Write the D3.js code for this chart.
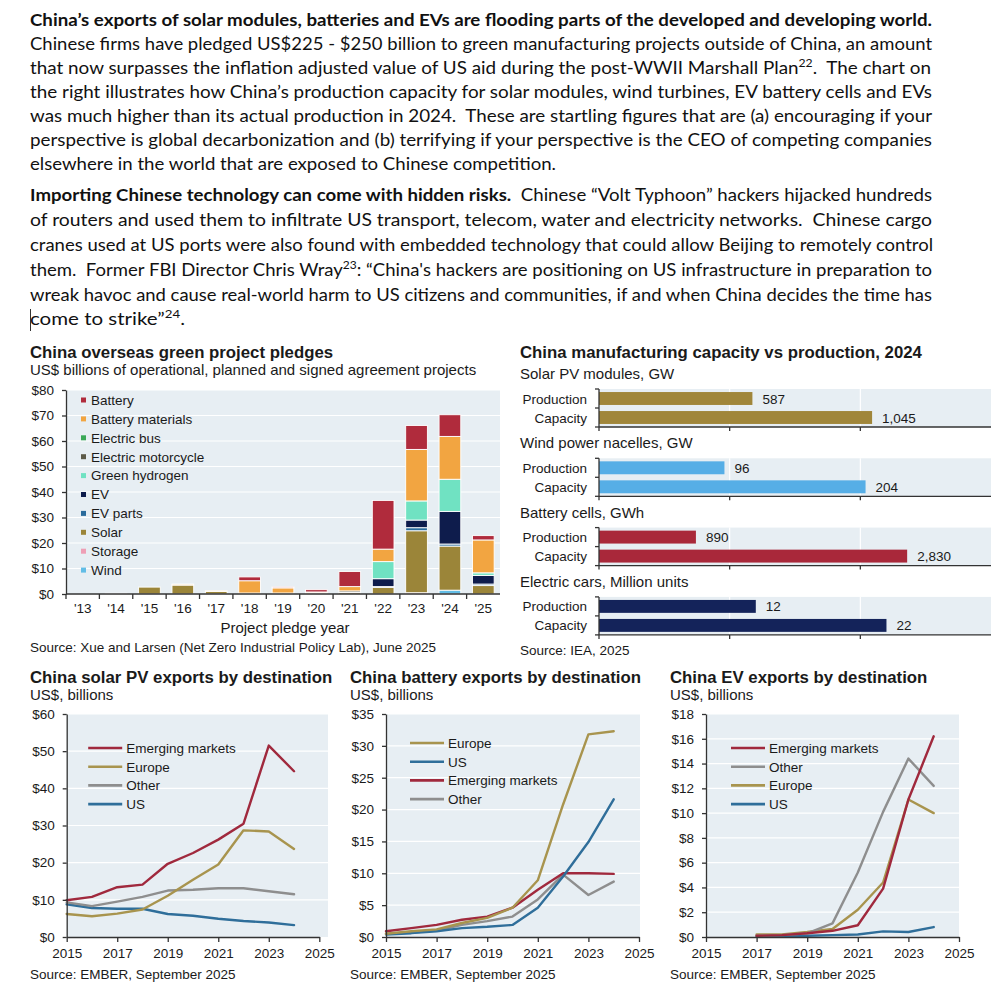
<!DOCTYPE html>
<html lang="en">
<head>
<meta charset="UTF-8">
<title>China green exports</title>
<script src="https://d3js.org/d3.v7.min.js"></script>
<style>
  body { margin: 0; background: #fff; }
  svg { display: block; }
  .para { font-family: Lato, "Open Sans", sans-serif; font-size: 17px; fill: #111; white-space: pre; }
  .chart text { font-family: "Liberation Sans", Arial, sans-serif; fill: #1a1a1a; }
  .ctitle { font-weight: bold; font-size: 16.8px; }
  .csub { font-size: 15px; }
  .small { font-size: 13.5px; }
</style>
</head>
<body>
<svg id="page" width="991" height="1000"></svg>
<script>
// ---------- data: overseas pledges (US$ bn) ----------
const pledgeYears = ["'13", "'14", "'15", "'16", "'17", "'18", "'19", "'20", "'21", "'22", "'23", "'24", "'25"];
const pledgeSeries = ["Battery", "Battery materials", "Electric bus", "Electric motorcycle", "Green hydrogen",
  "EV", "EV parts", "Solar", "Storage", "Wind"];
const pledgeBattery          = [0, 0, 0, 0, 0, 1.5, 0.4, 0.9, 5.9, 19.1, 9.4, 8.5, 1.7];
const pledgeBatteryMaterials = [0, 0, 0, 0.4, 0.3, 4.8, 2.0, 0.4, 1.7, 4.9, 20.2, 16.8, 12.9];
const pledgeElectricBus      = [0, 0, 0, 0, 0, 0, 0, 0, 0, 0, 0, 0, 0];
const pledgeElectricMoto     = [0, 0, 0, 0, 0, 0, 0, 0, 0.6, 0, 0, 0, 0];
const pledgeGreenHydrogen    = [0, 0, 0, 0, 0, 0, 0, 0, 0, 6.7, 7.5, 12.6, 1.0];
const pledgeEV               = [0, 0, 0, 0, 0, 0, 0, 0, 0, 3.1, 3.0, 12.8, 3.4];
const pledgeEVParts          = [0, 0, 0, 0, 0, 0, 0, 0, 0, 0.3, 1.2, 0.8, 0.6];
const pledgeSolar            = [0, 0.3, 2.7, 3.5, 1.0, 0.4, 0.4, 0.4, 0.6, 2.6, 24.3, 17.3, 3.3];
const pledgeStorage          = [0, 0, 0, 0, 0, 0, 0, 0, 0, 0, 0.5, 0, 0];
const pledgeWind             = [0, 0, 0, 0, 0, 0, 0, 0, 0, 0, 0, 1.5, 0];
const pledgeYTicks = [0, 10, 20, 30, 40, 50, 60, 70, 80];

// ---------- data: capacity vs production 2024 ----------
const capGroups = ["Solar PV modules, GW", "Wind power nacelles, GW", "Battery cells, GWh", "Electric cars, Million units"];
const capRows = ["Production", "Capacity"];
const capProduction = [587, 96, 890, 12];
const capCapacity = [1045, 204, 2830, 22];
const capAxisMax = [1500, 300, 3600, 30];

// ---------- data: exports by destination (US$ bn) ----------
const exportYears = [2015, 2016, 2017, 2018, 2019, 2020, 2021, 2022, 2023, 2024];
const xTickYears = [2015, 2017, 2019, 2021, 2023, 2025];

const solarEmerging = [9.9, 10.8, 13.4, 14.1, 19.7, 22.6, 26.2, 30.5, 51.5, 44.6];
const solarEurope   = [6.2, 5.6, 6.3, 7.4, 11.1, 15.4, 19.5, 28.7, 28.4, 23.7];
const solarOther    = [9.3, 8.3, 9.5, 10.8, 12.5, 12.7, 13.1, 13.1, 12.3, 11.5];
const solarUS       = [8.8, 7.8, 7.6, 7.6, 6.2, 5.7, 4.9, 4.3, 3.9, 3.2];

const batteryEurope   = [0.5, 0.9, 1.2, 2.2, 3.0, 4.6, 8.9, 20.8, 31.8, 32.3];
const batteryUS       = [0.4, 0.6, 0.9, 1.4, 1.6, 1.9, 4.6, 9.5, 14.9, 21.6];
const batteryEmerging = [0.9, 1.4, 1.9, 2.7, 3.2, 4.6, 7.4, 10.0, 10.0, 9.9];
const batteryOther    = [0.5, 0.7, 1.0, 1.9, 2.5, 3.2, 5.9, 9.8, 6.6, 8.7];

const evYears = [2017, 2018, 2019, 2020, 2021, 2022, 2023, 2024];
const evEmerging = [0.1, 0.15, 0.3, 0.5, 0.95, 3.9, 11.1, 16.2];
const evOther    = [0.1, 0.15, 0.3, 1.1, 5.2, 10.1, 14.4, 12.2];
const evEurope   = [0.2, 0.2, 0.4, 0.65, 2.2, 4.4, 11.1, 10.0];
const evUS       = [0.05, 0.05, 0.1, 0.15, 0.2, 0.45, 0.4, 0.8];

// ---------- styles ----------
const PLOT_BG = "#e7eef3";
const AXIS = "#333";
const pledgeColors = ["#b02b3c", "#f2a541", "#3aa857", "#5c5a48", "#70e2c2",
  "#0e1c4c", "#2b6c9c", "#9b8539", "#ee9fb5", "#62bde6"];
const capColors = ["#a0863a", "#56aee6", "#a9283a", "#14235a"];
const C_RED = "#a0293d", C_GOLD = "#a8944e", C_GREY = "#8e8e8e", C_BLUE = "#2f6e9a";

const page = d3.select("#page");

// ---------- commentary text ----------
const textLines = [
  [26, 902, [["b", "China’s exports of solar modules, batteries and EVs are flooding parts of the developed and developing world."]]],
  [50, 902, [["n", "Chinese firms have pledged US$225 - $250 billion to green manufacturing projects outside of China, an amount"]]],
  [74, 901, [["n", "that now surpasses the inflation adjusted value of US aid during the post-WWII Marshall Plan"], ["s", "22"], ["n", ".  The chart on"]]],
  [98, 902, [["n", "the right illustrates how China’s production capacity for solar modules, wind turbines, EV battery cells and EVs"]]],
  [122, 902, [["n", "was much higher than its actual production in 2024.  These are startling figures that are (a) encouraging if your"]]],
  [146, 902, [["n", "perspective is global decarbonization and (b) terrifying if your perspective is the CEO of competing companies"]]],
  [170, 526, [["n", "elsewhere in the world that are exposed to Chinese competition."]]],
  [201, 902, [["b", "Importing Chinese technology can come with hidden risks."], ["n", "  Chinese “Volt Typhoon” hackers hijacked hundreds"]]],
  [226, 902, [["n", "of routers and used them to infiltrate US transport, telecom, water and electricity networks.  Chinese cargo"]]],
  [251, 903, [["n", "cranes used at US ports were also found with embedded technology that could allow Beijing to remotely control"]]],
  [276, 902, [["n", "them.  Former FBI Director Chris Wray"], ["s", "23"], ["n", ": “China's hackers are positioning on US infrastructure in preparation to"]]],
  [301, 902, [["n", "wreak havoc and cause real-world harm to US citizens and communities, if and when China decides the time has"]]],
  [325, 155, [["n", "come to strike”"], ["s", "24"], ["n", "."]]]
];

textLines.forEach(([y, w, parts]) => {
  const t = page.append("text").attr("class", "para")
    .attr("x", 30).attr("y", y)
    .attr("textLength", w).attr("lengthAdjust", "spacingAndGlyphs");
  let shifted = false;
  parts.forEach(([kind, str]) => {
    const s = t.append("tspan").text(str);
    if (kind === "b") s.attr("font-weight", "bold");
    if (kind === "s") { s.attr("dy", -7).attr("font-size", 11); shifted = true; }
    else if (shifted) { s.attr("dy", 7); shifted = false; }
  });
});
// stray text cursor in the source screenshot
page.append("line").attr("x1", 30.5).attr("x2", 30.5).attr("y1", 309).attr("y2", 331)
  .attr("stroke", "#333").attr("stroke-width", 1);

// ---------- chart 1: stacked pledges ----------
{
  const g = page.append("g").attr("class", "chart");
  g.append("text").attr("class", "ctitle").attr("x", 30).attr("y", 358).text("China overseas green project pledges");
  g.append("text").attr("class", "csub").attr("x", 30).attr("y", 375)
    .text("US$ billions of operational, planned and signed agreement projects");

  const x = d3.scaleBand().domain(pledgeYears).range([66, 500]).paddingInner(0.35).paddingOuter(0.175);
  const y = d3.scaleLinear().domain([0, 80]).range([594, 390]);

  g.append("rect").attr("x", 66).attr("y", y(80)).attr("width", 434).attr("height", y(0) - y(80)).attr("fill", PLOT_BG);
  g.selectAll(".grid").data(pledgeYTicks.filter(d => d > 0)).join("line")
    .attr("x1", 66).attr("x2", 500).attr("y1", d => y(d)).attr("y2", d => y(d))
    .attr("stroke", "#fff").attr("stroke-width", 1.2);

  const pledgeValues = [pledgeBattery, pledgeBatteryMaterials, pledgeElectricBus, pledgeElectricMoto,
    pledgeGreenHydrogen, pledgeEV, pledgeEVParts, pledgeSolar, pledgeStorage, pledgeWind];
  const color = d3.scaleOrdinal().domain(pledgeSeries).range(pledgeColors);
  const rows = pledgeYears.map((yr, i) => {
    const o = { yr };
    pledgeSeries.forEach((s, j) => o[s] = pledgeValues[j][i]);
    return o;
  });
  const stacked = d3.stack().keys(pledgeSeries.slice().reverse())(rows);

  g.selectAll("g.layer").data(stacked).join("g").attr("class", "layer")
    .attr("fill", d => color(d.key))
    .selectAll("rect").data(d => d.filter(v => v[1] - v[0] > 0)).join("rect")
    .attr("x", d => x(d.data.yr)).attr("width", x.bandwidth())
    .attr("y", d => y(d[1])).attr("height", d => y(d[0]) - y(d[1]))
    .attr("stroke", "#fff").attr("stroke-width", 0.9);

  const ya = g.append("g").attr("transform", "translate(66,0)")
    .call(d3.axisLeft(y).tickValues(pledgeYTicks).tickSize(4).tickSizeOuter(0).tickPadding(8).tickFormat(d => "$" + d));
  ya.attr("font-size", 13.5);
  ya.selectAll("line,path").attr("stroke", AXIS).attr("stroke-width", 1.3);

  const gap = (x.step() - x.bandwidth()) / 2;
  g.append("line").attr("x1", 66).attr("x2", 500).attr("y1", 594).attr("y2", 594).attr("stroke", AXIS).attr("stroke-width", 1.3);
  g.selectAll(".xt").data(pledgeYears).join("line")
    .attr("x1", d => x(d) - gap).attr("x2", d => x(d) - gap).attr("y1", 594).attr("y2", 599)
    .attr("stroke", AXIS).attr("stroke-width", 1.3);
  g.selectAll(".xl").data(pledgeYears).join("text").attr("class", "small")
    .attr("x", d => x(d) + x.bandwidth() / 2).attr("y", 613).attr("text-anchor", "middle").text(d => d);
  g.append("text").attr("x", 285).attr("y", 633).attr("text-anchor", "middle").attr("font-size", 15).text("Project pledge year");
  g.append("text").attr("class", "small").attr("x", 30).attr("y", 652)
    .text("Source: Xue and Larsen (Net Zero Industrial Policy Lab), June 2025");

  const lg = g.selectAll(".lg").data(pledgeSeries).join("g")
    .attr("transform", (d, i) => `translate(81,${400 + i * 18.9})`);
  lg.append("rect").attr("x", 0).attr("y", -2.5).attr("width", 5).attr("height", 5).attr("fill", d => color(d));
  lg.append("text").attr("class", "small").attr("x", 10).attr("y", 4.8).text(d => d);
}

// ---------- chart 2: capacity vs production ----------
{
  const g = page.append("g").attr("class", "chart");
  g.append("text").attr("class", "ctitle").attr("x", 520).attr("y", 358).text("China manufacturing capacity vs production, 2024");
  const fmt = d3.format(",");
  const x0 = 599, x1 = 991, panelH = 38;

  capGroups.forEach((name, i) => {
    const top = 389 + i * 69.3;
    const x = d3.scaleLinear().domain([0, capAxisMax[i]]).range([x0, x1]);
    const y = d3.scaleBand().domain(capRows).range([top, top + panelH]).paddingInner(0.32).paddingOuter(0.16);
    const vals = [capProduction[i], capCapacity[i]];

    g.append("text").attr("class", "csub").attr("x", 520).attr("y", top - 10).text(name);
    g.append("rect").attr("x", x0).attr("y", top).attr("width", x1 - x0).attr("height", panelH).attr("fill", PLOT_BG);
    const ticks = [1, 2].map(k => capAxisMax[i] * k / 3);
    g.selectAll(null).data(ticks).join("line")
      .attr("x1", d => x(d)).attr("x2", d => x(d)).attr("y1", top).attr("y2", top + panelH)
      .attr("stroke", "#fff").attr("stroke-width", 1.2);

    g.selectAll(null).data(capRows).join("rect")
      .attr("x", x0).attr("y", d => y(d)).attr("height", y.bandwidth())
      .attr("width", (d, j) => x(vals[j]) - x0).attr("fill", capColors[i]);
    g.selectAll(null).data(capRows).join("text").attr("class", "small")
      .attr("x", (d, j) => x(vals[j]) + 10).attr("y", d => y(d) + y.bandwidth() / 2 + 5)
      .text((d, j) => fmt(vals[j]));
    g.selectAll(null).data(capRows).join("text").attr("class", "small")
      .attr("x", 587).attr("y", d => y(d) + y.bandwidth() / 2 + 5).attr("text-anchor", "end").text(d => d);

    // axes
    g.append("line").attr("x1", x0).attr("x2", x0).attr("y1", top).attr("y2", top + panelH).attr("stroke", AXIS).attr("stroke-width", 1.3);
    g.append("line").attr("x1", x0).attr("x2", x1).attr("y1", top + panelH).attr("y2", top + panelH).attr("stroke", AXIS).attr("stroke-width", 1.3);
    g.selectAll(null).data([top, top + panelH / 2, top + panelH]).join("line")
      .attr("x1", x0 - 4).attr("x2", x0).attr("y1", d => d).attr("y2", d => d).attr("stroke", AXIS).attr("stroke-width", 1.3);
    g.selectAll(null).data([0].concat(ticks)).join("line")
      .attr("x1", d => x(d)).attr("x2", d => x(d)).attr("y1", top + panelH).attr("y2", top + panelH + 4)
      .attr("stroke", AXIS).attr("stroke-width", 1.3);
  });
  g.append("text").attr("class", "small").attr("x", 520).attr("y", 655).text("Source: IEA, 2025");
}

// ---------- charts 3-5: exports by destination ----------
function exportChart(o) {
  const g = page.append("g").attr("class", "chart");
  g.append("text").attr("class", "ctitle").attr("x", o.left).attr("y", 683).text(o.title);
  g.append("text").attr("class", "csub").attr("x", o.left).attr("y", 700).text("US$, billions");

  const x = d3.scaleLinear().domain([2015, 2025]).range([o.x0, o.x1]);
  const y = d3.scaleLinear().domain([0, o.yMax]).range([937, 714]);
  const yTicks = d3.range(0, o.yMax + o.yStep / 2, o.yStep);

  g.append("rect").attr("x", o.x0).attr("y", 714).attr("width", o.bgRight - o.x0).attr("height", 223).attr("fill", PLOT_BG);
  g.selectAll(".grid").data(yTicks.filter(d => d > 0)).join("line")
    .attr("x1", o.x0).attr("x2", o.bgRight).attr("y1", d => y(d)).attr("y2", d => y(d))
    .attr("stroke", "#fff").attr("stroke-width", 1.2);

  const line = d3.line().x((d, i) => x(o.years[i])).y(d => y(d));
  g.selectAll(".series").data(o.series.slice().reverse()).join("path")
    .attr("d", d => line(d.values)).attr("fill", "none").attr("stroke", d => d.color)
    .attr("stroke-width", 2.4).attr("stroke-linejoin", "round").attr("stroke-linecap", "round");

  const ya = g.append("g").attr("transform", `translate(${o.x0},0)`)
    .call(d3.axisLeft(y).tickValues(yTicks).tickSize(4).tickSizeOuter(0).tickPadding(8).tickFormat(d => "$" + d));
  const xa = g.append("g").attr("transform", "translate(0,937)")
    .call(d3.axisBottom(x).tickValues(xTickYears).tickSize(5).tickSizeOuter(0).tickPadding(6).tickFormat(d3.format("d")));
  [ya, xa].forEach(a => {
    a.attr("font-size", 13.5);
    a.selectAll("line,path").attr("stroke", AXIS).attr("stroke-width", 1.3);
  });

  const lg = g.selectAll(".lg").data(o.series).join("g")
    .attr("transform", (d, i) => `translate(${o.x0 + o.legendDx},${o.legendY + i * 18.7})`);
  lg.append("line").attr("x1", 0).attr("x2", 34).attr("stroke", d => d.color).attr("stroke-width", 2.6);
  lg.append("text").attr("class", "small").attr("x", 38).attr("y", 5).text(d => d.name);

  g.append("text").attr("class", "small").attr("x", o.left).attr("y", 979).text("Source: EMBER, September 2025");
}

exportChart({
  title: "China solar PV exports by destination", left: 30, x0: 66.7, x1: 319.3, bgRight: 328,
  yMax: 60, yStep: 10, years: exportYears, legendDx: 21.5, legendY: 748,
  series: [
    { name: "Emerging markets", values: solarEmerging, color: C_RED },
    { name: "Europe", values: solarEurope, color: C_GOLD },
    { name: "Other", values: solarOther, color: C_GREY },
    { name: "US", values: solarUS, color: C_BLUE }
  ]
});
exportChart({
  title: "China battery exports by destination", left: 350, x0: 386, x1: 639, bgRight: 640,
  yMax: 35, yStep: 5, years: exportYears, legendDx: 24, legendY: 743,
  series: [
    { name: "Europe", values: batteryEurope, color: C_GOLD },
    { name: "US", values: batteryUS, color: C_BLUE },
    { name: "Emerging markets", values: batteryEmerging, color: C_RED },
    { name: "Other", values: batteryOther, color: C_GREY }
  ]
});
exportChart({
  title: "China EV exports by destination", left: 670, x0: 706, x1: 959, bgRight: 959,
  yMax: 18, yStep: 2, years: evYears, legendDx: 25, legendY: 748,
  series: [
    { name: "Emerging markets", values: evEmerging, color: C_RED },
    { name: "Other", values: evOther, color: C_GREY },
    { name: "Europe", values: evEurope, color: C_GOLD },
    { name: "US", values: evUS, color: C_BLUE }
  ]
});
</script>
</body>
</html>
